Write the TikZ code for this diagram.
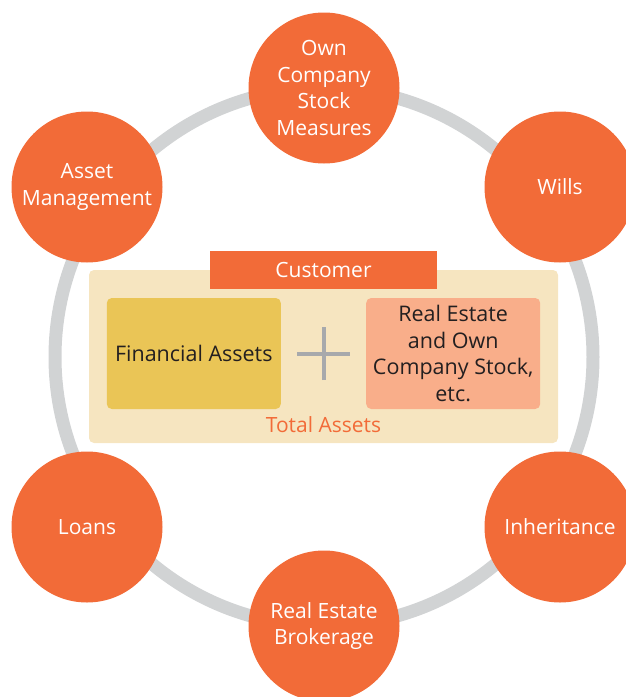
\documentclass[tikz,border=0pt]{standalone}
\usepackage{fontspec}
\setmainfont{Open Sans}
\usetikzlibrary{positioning}

\definecolor{bubbleorange}{HTML}{F26B38}
\definecolor{ringgray}{HTML}{D1D3D4}
\definecolor{panelbeige}{HTML}{F6E5C0}
\definecolor{finyellow}{HTML}{EAC556}
\definecolor{estatesalmon}{HTML}{F9AE8A}
\definecolor{plusgray}{HTML}{A7A9AC}
\definecolor{inktext}{HTML}{231F20}

\tikzset{
  bubble/.style={circle, fill=bubbleorange, minimum size=151pt, inner sep=0pt,
    text=white, align=center, font=\fontsize{21}{26.5}\selectfont},
  assetbox/.style={rectangle, rounded corners=5pt, minimum width=174pt,
    minimum height=111pt, inner sep=0pt, text=inktext, align=center,
    font=\fontsize{21.5}{26.7}\selectfont},
}

\begin{document}
\begin{tikzpicture}[x=1pt,y=-1pt]
\useasboundingbox (0,0) rectangle (626,697);
\coordinate (hub) at (324,357);
% Ring behind the circles
\draw[ringgray, line width=13pt] (hub) circle[radius=269];
% Top row of circles
\node[bubble] (own) at (324,88) {Own\\Company\\Stock\\Measures};
\node[bubble] (asset) at (87,187) {Asset\\Management};
\node[bubble] (wills) at (560,187) {Wills};
% Bottom row of circles
\node[bubble] (loans) at (87,527) {Loans};
\node[bubble] (inherit) at (560,527) {Inheritance};
\node[bubble] (broker) at (324,626) {Real Estate\\Brokerage};

% Customer panel
\node[rectangle, rounded corners=5pt, fill=panelbeige, minimum width=469pt,
  minimum height=173pt] (panel) at (323.5,356.5) {};
\node[rectangle, fill=bubbleorange, minimum width=227pt, minimum height=38pt,
  text=white, font=\fontsize{21}{22}\selectfont] (customer) at (323.5,270) {Customer};
\coordinate (plus) at (323.5,353.5);
\node[assetbox, fill=finyellow, left=42.5pt of plus] (fin) {Financial Assets};
\node[assetbox, fill=estatesalmon, right=42.5pt of plus] (estate)
  {Real Estate\\and Own\\Company Stock,\\etc.};
\draw[plusgray, line width=4pt] ([xshift=-26.5pt]plus) -- ([xshift=26.5pt]plus);
\draw[plusgray, line width=4pt] ([yshift=-26.5pt]plus) -- ([yshift=26.5pt]plus);
\node[text=bubbleorange, font=\fontsize{21}{22}\selectfont] (total) at (323.5,425) {Total Assets};
\end{tikzpicture}
\end{document}
